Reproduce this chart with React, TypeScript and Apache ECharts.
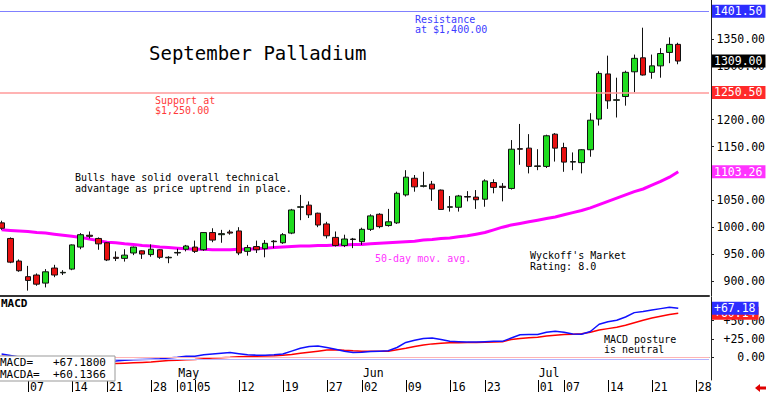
import React, { useEffect, useRef } from "react";
import * as echarts from "echarts";

const FONT = "DejaVu Sans Mono";

const dates = [
  "04-02","04-03","04-04","04-07","04-08","04-09","04-10","04-11","04-14","04-15","04-16","04-17","04-21","04-22","04-23","04-24","04-25","04-28","04-29","04-30",
  "05-01","05-02","05-05","05-06","05-07","05-08","05-09","05-12","05-13","05-14","05-15","05-16","05-19","05-20","05-21","05-22","05-23","05-27","05-28","05-29","05-30",
  "06-02","06-03","06-04","06-05","06-06","06-09","06-10","06-11","06-12","06-13","06-16","06-17","06-18","06-20","06-23","06-24","06-25","06-26","06-27","06-30",
  "07-01","07-02","07-03","07-07","07-08","07-09","07-10","07-11","07-14","07-15","07-16","07-17","07-18","07-21","07-22","07-23","07-24",
  "07-25","07-28","07-29",
];

const open = [1008,979,937,908,911,896,924,915,922,963,985,979,971,944,942,952,956,949,958,943,952,959,963,958,990,986,991,993,955,964,960,974,971,989,1037,1041,1026,1006,981,966,978,973,996,1024,1003,1008,1060,1091,1076,1080,1069,1037,1037,1057,1056,1052,1083,1076,1072,1146,1147,1113,1113,1173,1148,1121,1120,1144,1201,1285,1236,1243,1289,1315,1288,1300,1325,1340];
const high = [1012,981,940,928,914,922,930,920,968,989,992,981,972,955,959,964,957,968,959,946,960,967,975,991,998,995,995,1000,967,975,976,976,989,1034,1060,1048,1027,1010,992,986,980,999,1024,1026,1034,1066,1106,1097,1103,1086,1070,1058,1060,1067,1069,1089,1089,1082,1162,1192,1173,1145,1172,1175,1157,1139,1145,1212,1290,1319,1278,1291,1321,1371,1321,1333,1353,1343];
const low = [995,933,917,882,891,888,907,911,920,959,979,958,937,937,936,948,941,945,941,933,947,955,952,956,972,971,986,948,947,952,944,961,969,987,1013,1017,1000,979,964,963,961,967,993,998,1001,1006,1057,1066,1074,1049,1032,1029,1029,1048,1034,1038,1063,1048,1070,1116,1100,1106,1110,1122,1103,1106,1100,1131,1189,1220,1204,1226,1251,1282,1276,1278,1305,1303];
const close = [998,935,919,901,894,917,911,916,967,986,983,969,939,942,948,963,950,959,944,944,953,965,955,990,976,988,989,952,962,958,970,973,986,1032,1038,1023,1004,984,966,978,977,996,1021,1001,1010,1063,1093,1075,1077,1071,1033,1038,1058,1056,1051,1086,1074,1074,1145,1145,1113,1114,1170,1147,1121,1122,1144,1199,1286,1235,1237,1288,1314,1283,1300,1323,1340,1309];

const ma50 = [995,994,993,992,990,989,987,985,983,981,978,975,972,971,969,968,966,965,963,962,961,960,959,959,958,958,958,959,959,960,961,962,963,964,965,965,966,966,967,967,968,968,969,970,971,972,973,974,976,977,979,980,982,984,987,990,995,1000,1004,1007,1010,1013,1016,1019,1023,1027,1031,1036,1042,1048,1054,1060,1066,1071,1078,1085,1093,1103.26];

const macd = [4,2,0,-2,-4,-5,-6,-7,-7,-6,-6,-6,-6,-5.5,-4.5,-4,-3.5,-3,-2.5,-1.5,-0.5,1,1,3,4,5,6,4.5,3,2.5,2.5,3,4,8,12,14.5,15,13,10.5,8,6,6.5,7.5,8,8.5,13,20,23,25.5,26,24,21.5,21,20.5,20.5,21,21.5,21.5,26,30.5,31,31,34,35.5,34,31.5,31.3,35,45,48.5,50.5,55,61,62.5,64.5,66.5,68.5,67.18];
const macdSignal = [1,0,-1.5,-3,-4.5,-5.5,-6.5,-7.5,-8,-8.5,-9,-9,-9,-9,-8.5,-8,-7.5,-7,-6,-5,-4.5,-4,-3.5,-2.5,-1.5,-1,-0.5,0.3,0.8,1,1.3,1.7,2.2,3.5,5,6.5,8,9.5,10,9.2,8.5,8,7.7,7.8,8,10,12,14.5,16.5,18,19,19.5,19.7,19.8,20,20.2,20.5,21,24,25.5,26.5,27.2,29,30,30.8,31.3,31.8,34,37,39,41,43.5,47,50.5,53.5,56,58.5,60.1366];

const priceTicks = [900, 950, 1000, 1050, 1100, 1150, 1200, 1250, 1300, 1350];
const macdTicks = [0, 25, 50];
const dayTicks = ["04-07","04-14","04-21","04-28","05-01","05-05","05-12","05-19","05-27","06-02","06-09","06-16","06-23","07-01","07-07","07-14","07-21","07-28"];
const monthStarts = ["05-01", "06-02", "07-01"];
const monthNames = ["May", "Jun", "Jul"];

const resistance = 1401.5;
const support = 1250.5;
const macdLast = macd[macd.length - 1];
const signalLast = macdSignal[macdSignal.length - 1];
const MACD_MIN = -31.7;
const MACD_MAX = 82.5;

// the chart canvas starts 3px left of the page edge, so the first candle is cut as in the reference
const SHIFT = 3;
const HIDDEN_LINE = { color: "rgba(0,0,0,0)", width: 0 };

function buildOption() {
  const candles = open.map((o, i) => [o, close[i], low[i], high[i]]);
  const daySet = new Set(dayTicks);
  const monthSet = new Set(monthStarts);
  const lastClose = close[close.length - 1];
  const lastMa = ma50[ma50.length - 1];
  const endLabel = {
    show: true,
    position: "end",
    distance: 3,
    color: "#fff",
    fontFamily: FONT,
    fontSize: 11.5,
    padding: [1, 3, 0, 2],
  };
  const sign = (v: number) => (v > 0 ? "+" : "") + v.toFixed(2);
  const txt = (text: string, x: number, y: number, fill: string, size = 10, lh = 11, extra: any = {}) => ({
    type: "text",
    x: x + SHIFT,
    y,
    z: 100,
    silent: true,
    style: {
      text,
      fill,
      font: `${extra.weight || "normal"} ${size}px "${FONT}"`,
      lineHeight: lh,
      textVerticalAlign: "top",
      textAlign: "left",
    },
  });
  const gridLeft = 0.2;
  const gridWidth = 712.8;

  return {
    animation: false,
    backgroundColor: "#ffffff",
    grid: [
      { left: gridLeft, top: 0, width: gridWidth, height: 296 },
      { left: gridLeft, top: 297, width: gridWidth, height: 84 },
    ],
    xAxis: [
      {
        type: "category",
        gridIndex: 0,
        data: dates,
        boundaryGap: true,
        axisLine: { show: true, lineStyle: { color: "#333", width: 2 } },
        axisTick: { show: false },
        axisLabel: { show: false },
        splitLine: { show: false },
      },
      {
        type: "category",
        gridIndex: 1,
        data: dates,
        boundaryGap: true,
        axisLine: { show: true, lineStyle: { color: "#555", width: 1 } },
        axisTick: { show: false },
        axisLabel: {
          interval: (i: number, v: string) => daySet.has(v),
          formatter: (v: string) => v.slice(3),
          align: "left",
          margin: 1,
          padding: [0, 0, 0, 2],
          fontFamily: FONT,
          fontSize: 11.5,
          color: "#000",
        },
        splitLine: { show: false },
      },
      {
        type: "category",
        gridIndex: 1,
        data: dates,
        boundaryGap: true,
        position: "bottom",
        axisLine: { show: false },
        axisTick: { show: false },
        axisLabel: {
          inside: true,
          interval: (i: number, v: string) => monthSet.has(v),
          formatter: (v: string) => monthNames[monthStarts.indexOf(v)] || "",
          align: "left",
          margin: 1,
          padding: [0, 0, 0, 1],
          fontFamily: FONT,
          fontSize: 11.5,
          color: "#000",
        },
        splitLine: { show: false },
      },
    ],
    yAxis: [
      {
        type: "value",
        gridIndex: 0,
        position: "right",
        offset: 2,
        min: 872,
        max: 1422.5,
        axisLine: { show: true, lineStyle: { color: "#222" } },
        axisTick: { show: true, customValues: priceTicks, length: 3, lineStyle: { color: "#222" } },
        axisLabel: {
          customValues: priceTicks,
          formatter: (v: number) => v.toFixed(2),
          align: "right",
          margin: 54,
          fontFamily: FONT,
          fontSize: 11.5,
          color: "#000",
        },
        splitLine: { show: false },
      },
      {
        type: "value",
        gridIndex: 1,
        position: "right",
        offset: 2,
        min: MACD_MIN,
        max: MACD_MAX,
        axisLine: { show: true, lineStyle: { color: "#222" } },
        axisTick: { show: true, customValues: macdTicks, length: 3, lineStyle: { color: "#222" } },
        axisLabel: {
          customValues: macdTicks,
          formatter: (v: number) => sign(v),
          align: "right",
          margin: 54,
          fontFamily: FONT,
          fontSize: 11.5,
          color: "#000",
        },
        splitLine: { show: false },
      },
    ],
    series: [
      {
        type: "candlestick",
        xAxisIndex: 0,
        yAxisIndex: 0,
        data: candles,
        barWidth: 6,
        itemStyle: {
          color: "#1fdc1f",
          color0: "#e81010",
          borderColor: "#111",
          borderColor0: "#111",
          borderWidth: 1,
        },
        markLine: {
          silent: true,
          symbol: ["none", "none"],
          label: endLabel,
          data: [
            {
              yAxis: resistance,
              lineStyle: { color: "#8080ff", width: 1, type: "solid" },
              label: { formatter: resistance.toFixed(2), backgroundColor: "#2d2dff" },
            },
            {
              yAxis: support,
              lineStyle: { color: "#ff9a9a", width: 1.5, type: "solid" },
              label: { formatter: support.toFixed(2), backgroundColor: "#ff2a2a" },
            },
            {
              yAxis: lastClose,
              lineStyle: HIDDEN_LINE,
              label: { formatter: lastClose.toFixed(2), backgroundColor: "#000" },
            },
          ],
        },
      },
      {
        type: "line",
        xAxisIndex: 0,
        yAxisIndex: 0,
        data: ma50,
        symbol: "none",
        lineStyle: { color: "#ff00ff", width: 3 },
        z: 1,
        markLine: {
          silent: true,
          symbol: ["none", "none"],
          label: endLabel,
          data: [
            {
              yAxis: lastMa,
              lineStyle: HIDDEN_LINE,
              label: { formatter: lastMa.toFixed(2), backgroundColor: "#ff33ff" },
            },
          ],
        },
      },
      {
        type: "line",
        xAxisIndex: 1,
        yAxisIndex: 1,
        data: macdSignal,
        symbol: "none",
        lineStyle: { color: "#ff0000", width: 1.5 },
        markLine: {
          silent: true,
          symbol: ["none", "none"],
          label: endLabel,
          data: [
            { yAxis: 0, lineStyle: { color: "#ffb4b4", width: 1, type: "solid" }, label: { show: false } },
            { yAxis: -3.5, lineStyle: { color: "#b4b4ff", width: 1, type: "solid" }, label: { show: false } },
            {
              yAxis: signalLast,
              lineStyle: HIDDEN_LINE,
              label: { formatter: sign(signalLast), backgroundColor: "#ff2020" },
            },
          ],
        },
      },
      {
        type: "line",
        xAxisIndex: 1,
        yAxisIndex: 1,
        data: macd,
        symbol: "none",
        lineStyle: { color: "#1010ff", width: 1.5 },
        markLine: {
          silent: true,
          symbol: ["none", "none"],
          label: endLabel,
          data: [
            {
              yAxis: macdLast,
              lineStyle: HIDDEN_LINE,
              label: { formatter: sign(macdLast), backgroundColor: "#2d2dff" },
            },
          ],
        },
      },
      {
        // date tick marks under the bottom axis, placed by the category scale
        type: "custom",
        xAxisIndex: 1,
        yAxisIndex: 1,
        clip: false,
        silent: true,
        z: 5,
        data: dayTicks.map((d) => [d, MACD_MIN]),
        renderItem: (params: any, api: any) => {
          const p = api.coord([api.value(0), api.value(1)]);
          const x = Math.round(p[0]) + 0.5;
          return {
            type: "line",
            shape: { x1: x, y1: p[1], x2: x, y2: p[1] + 12 },
            style: { stroke: "#000", lineWidth: 1 },
          };
        },
      },
    ],
    graphic: [
      txt("September Palladium", 149, 43, "#000", 19, 20),
      txt("Resistance\nat $1,400.00", 415, 14, "#3b3bff", 10, 10.5),
      txt("Support at\n$1,250.00", 155, 95, "#ff3a3a", 10, 10.5),
      txt("Bulls have solid overall technical\nadvantage as price uptrend in place.", 75, 171.5, "#000", 10, 11),
      txt("50-day mov. avg.", 375, 253, "#ff33ff", 10, 11),
      txt("Wyckoff's Market\nRating: 8.0", 530, 250.5, "#000", 10, 10.5),
      txt("MACD", 1, 297, "#000", 11, 12, { weight: "bold" }),
      txt("MACD posture\nis neutral", 604, 334, "#000", 10, 10.5),
      {
        type: "rect",
        z: 99,
        silent: true,
        shape: { x: -1 + SHIFT, y: 356, width: 116, height: 25 },
        style: { fill: "#fff", stroke: "#999", lineWidth: 1 },
      },
      txt("MACD=   +" + macdLast.toFixed(4), 0, 356.5, "#000", 11, 12),
      txt("MACDA=  +" + signalLast.toFixed(4), 0, 368.5, "#000", 11, 12),
      {
        type: "polygon",
        z: 100,
        silent: true,
        shape: {
          points: [[755, 388], [760, 384], [760, 386.5], [766, 386.5], [766, 389.5], [760, 389.5], [760, 392]].map(
            (p) => [p[0] + SHIFT, p[1]]
          ),
        },
        style: { fill: "#e00000" },
      },
    ],
  };
}

export default function App() {
  const ref = useRef<HTMLDivElement>(null);
  useEffect(() => {
    if (!ref.current) return;
    const chart = echarts.init(ref.current, null, { renderer: "svg" });
    chart.setOption(buildOption() as any);
    return () => chart.dispose();
  }, []);
  return (
    <div style={{ position: "absolute", left: 0, top: 0, width: 768, height: 393, overflow: "hidden", background: "#fff" }}>
      <div
        ref={ref}
        style={{ position: "absolute", left: -SHIFT, top: 0, width: 768 + SHIFT, height: 393 }}
      />
    </div>
  );
}
